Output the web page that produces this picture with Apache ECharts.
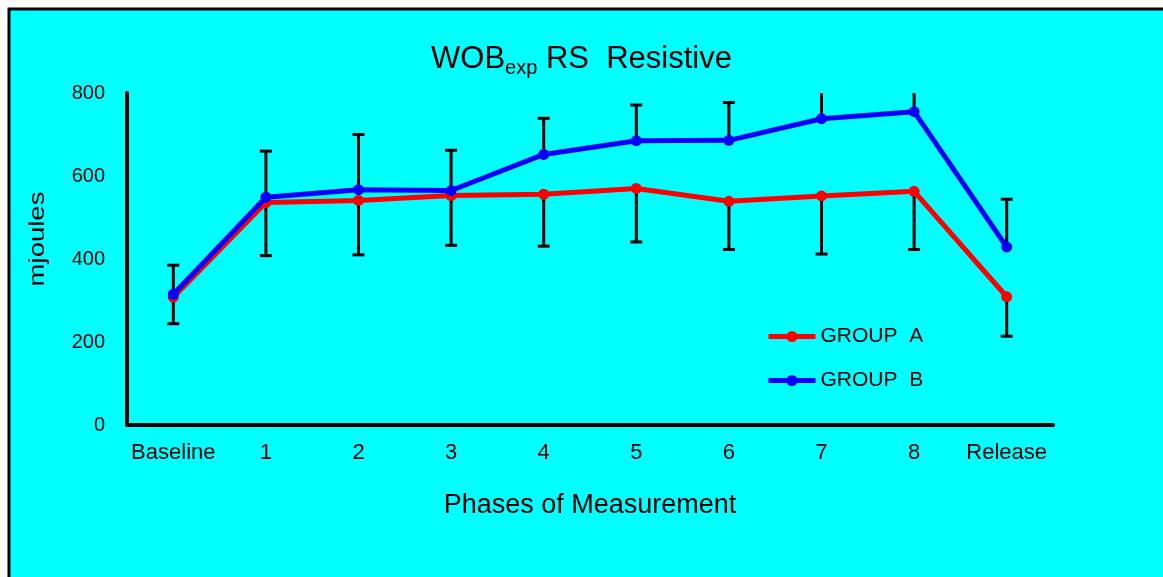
<!DOCTYPE html>
<html>
<head>
<meta charset="utf-8">
<script src="https://cdn.jsdelivr.net/npm/echarts@6/dist/echarts.min.js"></script>
<style>
  html, body { margin: 0; padding: 0; background: #fff; }
  #chart { width: 1163px; height: 577px; }
</style>
</head>
<body>
<div id="chart"></div>
<script>
// Phases of measurement along the x axis
const phases = ['Baseline', '1', '2', '3', '4', '5', '6', '7', '8', 'Release'];

// Mean expiratory work of breathing (mjoules) per group
const groupA = [308, 536, 541, 553, 556, 570, 539, 552, 563, 309];
const groupB = [315, 549, 567, 565, 652, 685, 686, 738, 755, 429];

// Error bar lengths: group A drawn downwards, group B upwards
const errA = [64, 128, 131, 120, 125, 129, 116, 140, 140, 95];
const errB = [70, 111, 133, 97, 87, 86, 91, 95, 90, 115];

// Y axis ticks
const yTicks = { min: 0, max: 800, interval: 200 };

const FONT = '"Liberation Sans", Arial, sans-serif';

function errorBarSeries(name, values, errs, dir) {
  return {
    name: name + ' error',
    type: 'custom',
    clip: true,
    silent: true,
    z: 2,
    encode: { x: 0, y: [1, 2] },
    data: values.map((v, i) => [i, v, v + dir * errs[i]]),
    renderItem(params, api) {
      const p = api.coord([api.value(0), api.value(1)]);
      const e = api.coord([api.value(0), api.value(2)]);
      const hw = 6;
      const st = { stroke: '#000', lineWidth: 3 };
      return {
        type: 'group',
        children: [
          { type: 'line', shape: { x1: p[0], y1: p[1], x2: e[0], y2: e[1] }, style: st },
          { type: 'line', shape: { x1: e[0] - hw, y1: e[1], x2: e[0] + hw, y2: e[1] }, style: st }
        ]
      };
    }
  };
}

const chart = echarts.init(document.getElementById('chart'), null, { renderer: 'canvas' });

chart.setOption({
  backgroundColor: '#fff',
  animation: false,
  textStyle: { fontFamily: FONT, color: '#000' },
  graphic: [
    {
      type: 'rect',
      z: -100,
      shape: { x: 9, y: 9, width: 2000, height: 2000 },
      style: { fill: '#00ffff', stroke: '#000', lineWidth: 3 }
    },
    {
      type: 'text',
      x: 38, y: 239,
      rotation: Math.PI / 2,
      scaleX: 1.25,
      style: {
        text: 'mjoules',
        fontFamily: FONT,
        fontSize: 22,
        fill: '#000',
        align: 'center',
        verticalAlign: 'middle'
      }
    }
  ],
  title: {
    text: '{m|WOB}{s|exp}{m| RS  Resistive}',
    left: 'center',
    top: 36,
    textStyle: {
      fontWeight: 'normal',
      rich: {
        m: { fontFamily: FONT, fontSize: 31, fontWeight: 'normal', color: '#000', lineHeight: 36 },
        s: { fontFamily: FONT, fontSize: 20, fontWeight: 'normal', color: '#000', lineHeight: 20, padding: [18, 0, 0, 0] }
      }
    }
  },
  legend: {
    orient: 'vertical',
    left: 766,
    top: 326,
    padding: 0,
    itemWidth: 47,
    itemHeight: 14,
    itemGap: 23,
    lineStyle: { width: 5 },
    textStyle: { fontFamily: FONT, fontSize: 21, color: '#000' },
    data: ['GROUP  A', 'GROUP  B']
  },
  grid: { left: 127, right: 110, top: 93, bottom: 152 },
  xAxis: {
    type: 'category',
    data: phases,
    boundaryGap: true,
    name: 'Phases of Measurement',
    nameLocation: 'middle',
    nameGap: 67,
    nameTextStyle: { fontFamily: FONT, fontSize: 27, color: '#000' },
    axisLine: { lineStyle: { color: '#000', width: 4 } },
    axisTick: { show: false },
    axisLabel: { interval: 0, fontFamily: FONT, fontSize: 22, color: '#000', margin: 17 },
    splitLine: { show: false }
  },
  yAxis: {
    type: 'value',
    min: yTicks.min,
    max: yTicks.max,
    interval: yTicks.interval,
    axisLine: { show: true, lineStyle: { color: '#000', width: 4 } },
    axisTick: { show: false },
    axisLabel: { fontFamily: FONT, fontSize: 20, color: '#000', margin: 22 },
    splitLine: { show: false }
  },
  series: [
    errorBarSeries('GROUP  A', groupA, errA, -1),
    errorBarSeries('GROUP  B', groupB, errB, 1),
    {
      name: 'GROUP  A',
      type: 'line',
      data: groupA,
      z: 3,
      symbol: 'circle',
      symbolSize: 11,
      itemStyle: { color: '#ff0000' },
      lineStyle: { color: '#ff0000', width: 5 }
    },
    {
      name: 'GROUP  B',
      type: 'line',
      data: groupB,
      z: 4,
      symbol: 'circle',
      symbolSize: 11,
      itemStyle: { color: '#0000ff' },
      lineStyle: { color: '#0000ff', width: 5 }
    }
  ]
});
</script>
</body>
</html>
